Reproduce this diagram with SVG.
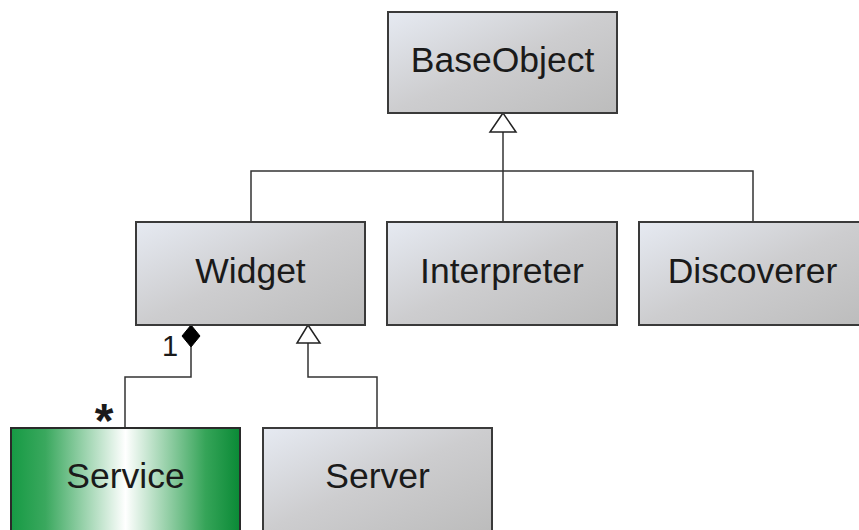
<svg xmlns="http://www.w3.org/2000/svg" width="859" height="530" viewBox="0 0 859 530">
<defs>
<linearGradient id="gray" x1="0" y1="0" x2="1" y2="1">
<stop offset="0" stop-color="#e6eaf2"/>
<stop offset="0.5" stop-color="#cdcdcf"/>
<stop offset="1" stop-color="#bcbcbc"/>
</linearGradient>
<linearGradient id="green" x1="0" y1="0" x2="1" y2="0">
<stop offset="0" stop-color="#169a44"/>
<stop offset="0.15" stop-color="#3aa85e"/>
<stop offset="0.5" stop-color="#ffffff"/>
<stop offset="0.85" stop-color="#35a458"/>
<stop offset="1" stop-color="#0a8a36"/>
</linearGradient>
</defs>
<style>
.box{fill:url(#gray);stroke:#3a3a3a;stroke-width:2}
.gbox{fill:url(#green);stroke:#2a2a2a;stroke-width:2}
.lbl{font-family:"Liberation Sans",Arial,sans-serif;font-size:35.5px;fill:#1a1a1a;text-anchor:middle}
.ln{fill:none;stroke:#333;stroke-width:1.5}
.tri{fill:#fff;stroke:#222;stroke-width:1.5}
.dia{fill:#000;stroke:#000;stroke-width:1}
.mult{font-family:"Liberation Sans",Arial,sans-serif;fill:#1a1a1a}
</style>
<rect width="859" height="530" fill="#fff"/>
<g id="connectors">
<polyline class="ln" points="503,132 503,222"/>
<polyline class="ln" points="251,222 251,171 753,171 753,222"/>
<polygon class="tri" points="503,113 490,132 516,132"/>
<polyline class="ln" points="191,347 191,377 125,377 125,428"/>
<polygon class="dia" points="191,325 200,336 191,347 182,336"/>
<polyline class="ln" points="308,343 308,377 377,377 377,428"/>
<polygon class="tri" points="308,325 297,343 320,343"/>
<text class="mult" x="170" y="356" font-size="29" text-anchor="middle">1</text>
<text class="mult" x="104" y="437" font-size="48" font-weight="bold" text-anchor="middle">*</text>
</g>
<g id="BaseObject">
<rect class="box" x="388" y="12" width="229" height="101"/>
<text class="lbl" x="502.5" y="72">BaseObject</text>
</g>
<g id="Widget">
<rect class="box" x="136" y="222" width="229" height="103"/>
<text class="lbl" x="250.5" y="283">Widget</text>
</g>
<g id="Interpreter">
<rect class="box" x="387" y="222" width="230" height="103"/>
<text class="lbl" x="502" y="283">Interpreter</text>
</g>
<g id="Discoverer">
<rect class="box" x="639" y="222" width="229" height="103"/>
<text class="lbl" x="752.5" y="283">Discoverer</text>
</g>
<g id="Service">
<rect class="gbox" x="11" y="428" width="229" height="103"/>
<text class="lbl" x="125.5" y="488">Service</text>
</g>
<g id="Server">
<rect class="box" x="263" y="428" width="229" height="103"/>
<text class="lbl" x="377.5" y="488">Server</text>
</g>
</svg>
